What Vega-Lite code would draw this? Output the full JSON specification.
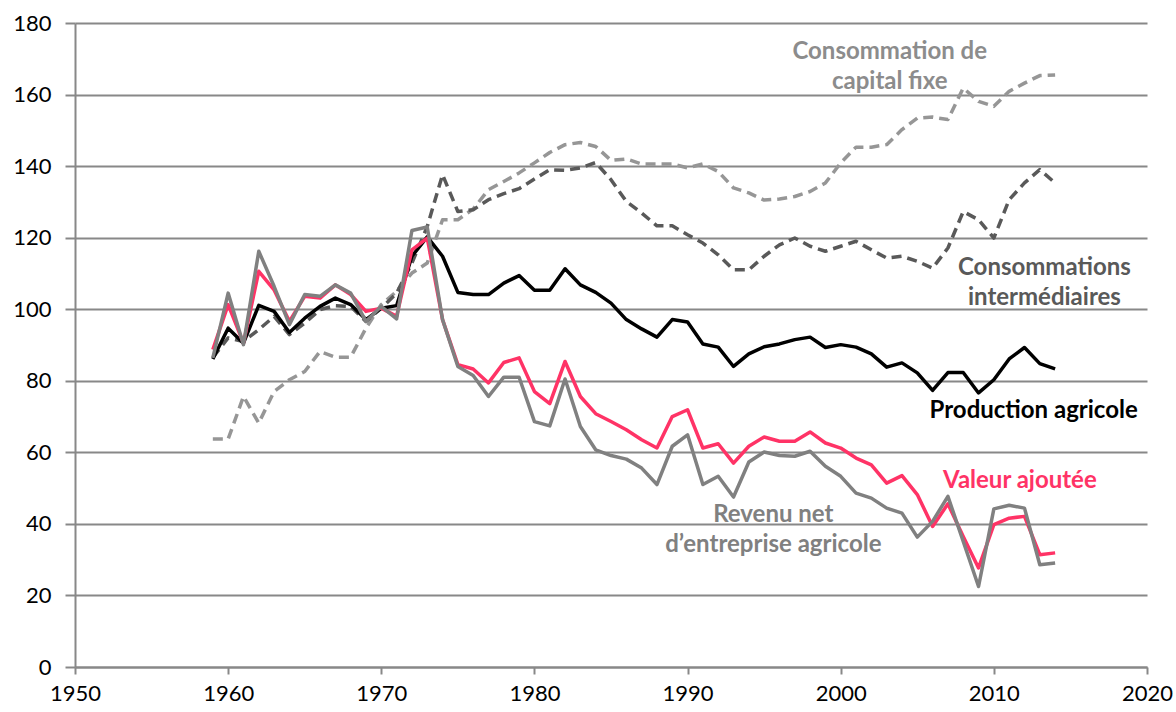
{
  "$schema": "https://vega.github.io/schema/vega-lite/v6.json",
  "width": 1072,
  "height": 644,
  "autosize": {"type": "none"},
  "padding": {"left": 75, "top": 23, "right": 29, "bottom": 45},
  "background": "white",
  "config": {
    "view": {"stroke": null},
    "font": "Lato",
    "axis": {
      "domainColor": "#888888", "domainWidth": 2,
      "gridColor": "#888888", "gridWidth": 2, "gridOpacity": 1,
      "tickColor": "#888888", "tickWidth": 2,
      "labelColor": "#000000", "labelFont": "Lato", "labelFontSize": 22,
      "title": null
    }
  },
  "datasets": {
    "series": [
      {"year": 1959, "prod": 86.1, "va": 88.7, "rev": 86.4, "ci": 86.5, "ccf": 63.7},
      {"year": 1960, "prod": 94.7, "va": 101.3, "rev": 104.5, "ci": 92.0, "ccf": 63.7},
      {"year": 1961, "prod": 90.5, "va": 90.5, "rev": 90.1, "ci": 91.0, "ccf": 75.6},
      {"year": 1962, "prod": 101.1, "va": 110.6, "rev": 116.2, "ci": 94.3, "ccf": 68.2},
      {"year": 1963, "prod": 99.4, "va": 105.4, "rev": 106.4, "ci": 98.0, "ccf": 77.0},
      {"year": 1964, "prod": 93.5, "va": 96.6, "rev": 95.7, "ci": 92.9, "ccf": 80.3},
      {"year": 1965, "prod": 97.5, "va": 103.6, "rev": 104.1, "ci": 96.1, "ccf": 82.6},
      {"year": 1966, "prod": 100.8, "va": 103.1, "rev": 103.6, "ci": 99.9, "ccf": 88.2},
      {"year": 1967, "prod": 103.1, "va": 106.8, "rev": 106.8, "ci": 101.0, "ccf": 86.6},
      {"year": 1968, "prod": 101.3, "va": 104.1, "rev": 104.5, "ci": 100.8, "ccf": 86.6},
      {"year": 1969, "prod": 97.1, "va": 99.4, "rev": 96.6, "ci": 96.6, "ccf": 94.7},
      {"year": 1970, "prod": 100.3, "va": 100.3, "rev": 100.8, "ci": 100.3, "ccf": 101.3},
      {"year": 1971, "prod": 101.0, "va": 98.0, "rev": 97.3, "ci": 104.5, "ccf": 105.0},
      {"year": 1972, "prod": 114.8, "va": 116.6, "rev": 122.0, "ci": 112.9, "ccf": 110.1},
      {"year": 1973, "prod": 120.2, "va": 119.9, "rev": 123.0, "ci": 123.1, "ccf": 112.9},
      {"year": 1974, "prod": 114.8, "va": 97.1, "rev": 97.1, "ci": 137.6, "ccf": 125.0},
      {"year": 1975, "prod": 104.7, "va": 84.5, "rev": 84.0, "ci": 127.3, "ccf": 125.0},
      {"year": 1976, "prod": 104.1, "va": 83.3, "rev": 81.5, "ci": 127.8, "ccf": 128.0},
      {"year": 1977, "prod": 104.1, "va": 79.4, "rev": 75.6, "ci": 130.6, "ccf": 133.4},
      {"year": 1978, "prod": 107.3, "va": 85.1, "rev": 81.0, "ci": 132.3, "ccf": 135.7},
      {"year": 1979, "prod": 109.4, "va": 86.4, "rev": 81.0, "ci": 133.7, "ccf": 138.1},
      {"year": 1980, "prod": 105.3, "va": 77.0, "rev": 68.6, "ci": 136.4, "ccf": 140.9},
      {"year": 1981, "prod": 105.3, "va": 73.6, "rev": 67.4, "ci": 139.0, "ccf": 143.8},
      {"year": 1982, "prod": 111.3, "va": 85.4, "rev": 80.5, "ci": 138.8, "ccf": 146.0},
      {"year": 1983, "prod": 106.8, "va": 75.6, "rev": 67.2, "ci": 139.5, "ccf": 146.6},
      {"year": 1984, "prod": 104.7, "va": 70.8, "rev": 60.7, "ci": 141.0, "ccf": 145.5},
      {"year": 1985, "prod": 101.7, "va": 68.6, "rev": 59.1, "ci": 136.2, "ccf": 141.6},
      {"year": 1986, "prod": 97.1, "va": 66.3, "rev": 58.1, "ci": 130.1, "ccf": 142.0},
      {"year": 1987, "prod": 94.5, "va": 63.5, "rev": 55.6, "ci": 126.9, "ccf": 140.6},
      {"year": 1988, "prod": 92.2, "va": 61.2, "rev": 51.0, "ci": 123.3, "ccf": 140.6},
      {"year": 1989, "prod": 97.1, "va": 70.0, "rev": 61.7, "ci": 123.3, "ccf": 140.6},
      {"year": 1990, "prod": 96.4, "va": 71.9, "rev": 64.9, "ci": 120.8, "ccf": 139.5},
      {"year": 1991, "prod": 90.3, "va": 61.2, "rev": 51.0, "ci": 118.5, "ccf": 140.6},
      {"year": 1992, "prod": 89.4, "va": 62.4, "rev": 53.3, "ci": 115.2, "ccf": 138.5},
      {"year": 1993, "prod": 84.0, "va": 57.0, "rev": 47.5, "ci": 111.0, "ccf": 133.9},
      {"year": 1994, "prod": 87.5, "va": 61.7, "rev": 57.3, "ci": 111.0, "ccf": 132.5},
      {"year": 1995, "prod": 89.5, "va": 64.3, "rev": 60.1, "ci": 114.8, "ccf": 130.5},
      {"year": 1996, "prod": 90.3, "va": 63.1, "rev": 59.1, "ci": 118.0, "ccf": 130.8},
      {"year": 1997, "prod": 91.5, "va": 63.1, "rev": 58.9, "ci": 119.9, "ccf": 131.5},
      {"year": 1998, "prod": 92.2, "va": 65.7, "rev": 60.3, "ci": 117.6, "ccf": 132.9},
      {"year": 1999, "prod": 89.3, "va": 62.6, "rev": 56.1, "ci": 116.2, "ccf": 135.3},
      {"year": 2000, "prod": 90.1, "va": 61.2, "rev": 53.3, "ci": 117.6, "ccf": 140.9},
      {"year": 2001, "prod": 89.4, "va": 58.4, "rev": 48.6, "ci": 119.0, "ccf": 145.3},
      {"year": 2002, "prod": 87.5, "va": 56.5, "rev": 47.2, "ci": 116.6, "ccf": 145.3},
      {"year": 2003, "prod": 83.8, "va": 51.4, "rev": 44.4, "ci": 114.3, "ccf": 146.0},
      {"year": 2004, "prod": 85.0, "va": 53.5, "rev": 43.0, "ci": 114.8, "ccf": 150.2},
      {"year": 2005, "prod": 82.2, "va": 48.2, "rev": 36.3, "ci": 113.4, "ccf": 153.4},
      {"year": 2006, "prod": 77.3, "va": 39.3, "rev": 40.7, "ci": 111.5, "ccf": 153.7},
      {"year": 2007, "prod": 82.3, "va": 45.6, "rev": 47.7, "ci": 117.1, "ccf": 153.0},
      {"year": 2008, "prod": 82.3, "va": 36.5, "rev": 35.1, "ci": 127.3, "ccf": 161.8},
      {"year": 2009, "prod": 76.6, "va": 27.7, "rev": 22.5, "ci": 125.0, "ccf": 158.1},
      {"year": 2010, "prod": 80.3, "va": 39.8, "rev": 44.2, "ci": 119.9, "ccf": 156.7},
      {"year": 2011, "prod": 86.1, "va": 41.6, "rev": 45.2, "ci": 130.6, "ccf": 160.9},
      {"year": 2012, "prod": 89.3, "va": 42.1, "rev": 44.4, "ci": 135.3, "ccf": 163.2},
      {"year": 2013, "prod": 84.8, "va": 31.4, "rev": 28.6, "ci": 139.0, "ccf": 165.3},
      {"year": 2014, "prod": 83.3, "va": 31.9, "rev": 29.1, "ci": 135.3, "ccf": 165.5}
    ],
    "labels": [
      {"year": 2003.2, "value": 172.0, "label": "Consommation de\ncapital fixe", "who": "ccf"},
      {"year": 2013.3, "value": 111.6, "label": "Consommations\nintermédiaires", "who": "ci"},
      {"year": 2012.6, "value": 71.6, "label": "Production agricole", "who": "prod"},
      {"year": 2011.7, "value": 52.1, "label": "Valeur ajoutée", "who": "va"},
      {"year": 1995.6, "value": 42.6, "label": "Revenu net\nd’entreprise agricole", "who": "rev"}
    ]
  },
  "data": {"name": "series"},
  "encoding": {
    "x": {
      "field": "year", "type": "quantitative",
      "scale": {"domain": [1950, 2020], "nice": false, "zero": false},
      "axis": {"values": [1950, 1960, 1970, 1980, 1990, 2000, 2010, 2020], "format": "d", "grid": false, "tickSize": 7, "labelPadding": 9, "labelFlush": false}
    }
  },
  "layer": [
    {
      "mark": {"type": "line", "color": "#969696", "strokeWidth": 3.5, "strokeDash": [10, 6], "strokeJoin": "round"},
      "encoding": {
        "y": {
          "field": "ccf", "type": "quantitative",
          "scale": {"domain": [0, 180], "nice": false},
          "axis": {"values": [0, 20, 40, 60, 80, 100, 120, 140, 160, 180], "tickSize": 10, "labelPadding": 14, "grid": true}
        }
      }
    },
    {
      "mark": {"type": "line", "color": "#595959", "strokeWidth": 3.5, "strokeDash": [10, 6], "strokeJoin": "round"},
      "encoding": {"y": {"field": "ci", "type": "quantitative"}}
    },
    {
      "mark": {"type": "line", "color": "#000000", "strokeWidth": 3.5, "strokeJoin": "round"},
      "encoding": {"y": {"field": "prod", "type": "quantitative"}}
    },
    {
      "mark": {"type": "line", "color": "#ff3366", "strokeWidth": 3.5, "strokeJoin": "round"},
      "encoding": {"y": {"field": "va", "type": "quantitative"}}
    },
    {
      "mark": {"type": "line", "color": "#808080", "strokeWidth": 3.5, "strokeJoin": "round"},
      "encoding": {"y": {"field": "rev", "type": "quantitative"}}
    },
    {
      "data": {"name": "labels"},
      "mark": {"type": "text", "font": "Lato", "fontWeight": "bold", "fontSize": 24, "lineBreak": "\n", "lineHeight": 30, "align": "center", "baseline": "middle"},
      "encoding": {
        "y": {"field": "value", "type": "quantitative"},
        "text": {"field": "label"},
        "color": {
          "field": "who", "type": "nominal", "legend": null,
          "scale": {"domain": ["ccf", "ci", "prod", "va", "rev"], "range": ["#8c8c8c", "#595959", "#000000", "#ff3366", "#808080"]}
        }
      }
    }
  ]
}
